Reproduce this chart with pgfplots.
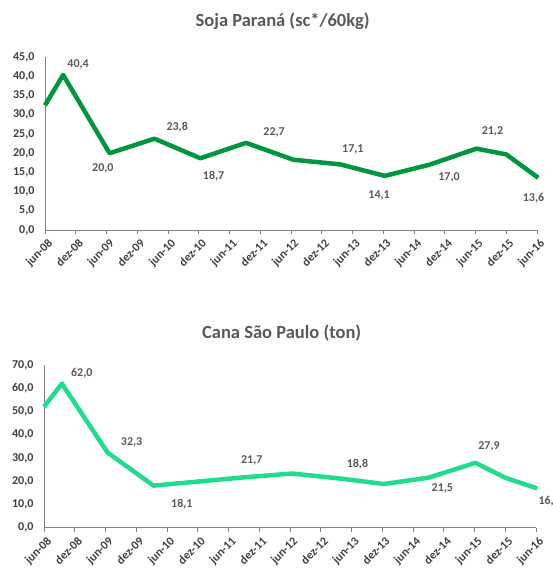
\documentclass[border=0pt]{standalone}
\usepackage{pgfplots}
\pgfplotsset{compat=1.18}
\usepackage{pgfplotstable}
\usepackage{fontspec}
\setmainfont{Carlito}

\definecolor{soja}{RGB}{0,150,64}
\definecolor{cana}{RGB}{32,220,140}
\definecolor{txt}{RGB}{89,89,89}
\definecolor{tick}{RGB}{64,64,64}
\definecolor{axl}{RGB}{128,128,128}

% x in half-years since jun-08
\pgfplotstableread{
x y
0 32.5
0.59 40.4
2.1 20.0
3.56 23.8
5.05 18.7
6.54 22.7
8.08 18.3
9.6 17.1
11.05 14.1
12.5 17.0
14.03 21.2
15.0 19.7
16.04 13.6
}\soja
\pgfplotstableread{
x y dx dy lab
0.59 40.4 15 10.6 40,4
2.1 20.0 -6.7 -15 20,0
3.56 23.8 22.7 11.3 23,8
5.05 18.7 13.3 -17.6 18,7
6.54 22.7 28 10.7 22,7
9.6 17.1 12.7 14.7 17,1
11.05 14.1 -5.7 -19.7 14,1
12.5 17.0 19.7 -12.7 17,0
14.03 21.2 16 17.4 21,2
16.04 13.6 -4.7 -20 13,6
}\sojalab
\pgfplotstableread{
x y
0 52.0
0.58 62.0
2.07 32.3
3.56 18.1
5.05 19.9
6.54 21.7
8.07 23.3
9.6 21.2
11.05 18.8
12.5 21.5
14.03 27.9
15.0 21.5
16.04 16.9
}\cana
\pgfplotstableread{
x y dx dy lab
0.58 62.0 20 10 62,0
2.07 32.3 24 10.7 32,3
3.56 18.1 28.4 -18.3 18,1
6.54 21.7 6.7 16.5 21,7
11.05 18.8 -26.3 20 18,8
12.5 21.5 14 -11 21,5
14.03 27.9 13.6 16 27,9
16.04 16.9 12 -12.7 16,9
}\canalab

\pgfplotsset{
  minha/.style={
    scale only axis,
    anchor=south west,
    xmin=0, xmax=16,
    clip=false,
    axis x line*=bottom,
    axis y line*=left,
    axis line style={axl, line width=0.8pt, -},
    xtick={0,...,16},
    xticklabels={jun-08,dez-08,jun-09,dez-09,jun-10,dez-10,jun-11,dez-11,jun-12,dez-12,jun-13,dez-13,jun-14,dez-14,jun-15,dez-15,jun-16},
    xticklabel style={rotate=45, anchor=north east, font=\bfseries\fontsize{12}{14}\selectfont, text=tick, xshift=2pt, yshift=-1pt},
    x tick style={axl, line width=0.8pt},
    tick align=outside,
    major tick length=4pt,
    y tick style={draw=none},
    yticklabel style={font=\bfseries\fontsize{12}{14}\selectfont, text=tick, xshift=-3pt},
    /pgf/number format/.cd, fixed, fixed zerofill, precision=1, use comma, assume math mode=true,
    /pgfplots/.cd,
    title style={font=\bfseries\fontsize{18.5}{21}\selectfont, text=txt, anchor=center},
  },
  lab/.style={
    draw=none, no marks,
    point meta=explicit symbolic,
    nodes near coords,
    visualization depends on={\thisrow{dx} \as \dx},
    visualization depends on={\thisrow{dy} \as \dy},
    every node near coord/.append style={anchor=center, xshift=\dx pt, yshift=\dy pt,
      font=\bfseries\fontsize{12}{14}\selectfont, text=txt},
  },
}

\begin{document}
\begin{tikzpicture}
\useasboundingbox (0,0) rectangle (553pt,573pt);
\begin{axis}[minha,
  at={(45pt,343pt)}, width=492pt, height=172.7pt,
  ymin=0, ymax=45, ytick={0,5,...,45},
  title={Soja Paraná (sc*/60kg)},
  title style={at={(0.483,1)}, yshift=30pt},
]
\addplot[soja, line width=4.5pt, line join=round] table[x=x, y=y] {\soja};
\addplot[lab] table[x=x, y=y, meta=lab] {\sojalab};
\end{axis}
\begin{axis}[minha,
  at={(44pt,45.3pt)}, width=492pt, height=162.7pt,
  ymin=0, ymax=70, ytick={0,10,...,70},
  title={Cana São Paulo (ton)},
  title style={at={(0.483,1)}, yshift=26pt},
]
\addplot[cana, line width=4.5pt, line join=round] table[x=x, y=y] {\cana};
\addplot[lab] table[x=x, y=y, meta=lab] {\canalab};
\end{axis}
\end{tikzpicture}
\end{document}
